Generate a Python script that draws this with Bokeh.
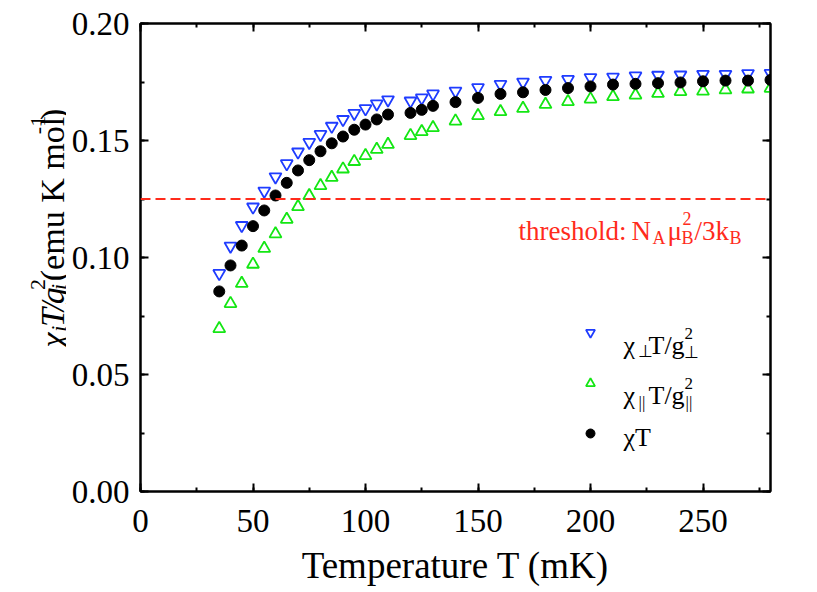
import math
from bokeh.plotting import figure
from bokeh.layouts import row
from bokeh.models import (LinearAxis, SingleIntervalTicker, NumeralTickFormatter, Span, Label,
                          Range1d, ColumnDataSource, CustomJSTickFormatter)
from bokeh.embed import file_html
from bokeh.resources import INLINE

# ---------------- data ----------------
temperature = [35, 40, 45, 50, 55, 60, 65, 70, 75, 80, 85, 90, 95, 100, 105, 110,
               120, 125, 130, 140, 150, 160, 170, 180, 190, 200, 210, 220, 230, 240,
               250, 260, 270, 280]
chi_perp = [0.0932, 0.1049, 0.1137, 0.1216, 0.1284, 0.1345, 0.1401, 0.1451, 0.1492, 0.1526,
            0.1561, 0.1590, 0.1616, 0.1636, 0.1657, 0.1674, 0.1669, 0.1682, 0.1699, 0.1711,
            0.1726, 0.1740, 0.1750, 0.1757, 0.1761, 0.1769, 0.1771, 0.1776, 0.1779, 0.1780,
            0.1783, 0.1783, 0.1786, 0.1787]
chi_par = [0.0696, 0.0803, 0.0889, 0.0971, 0.1039, 0.1101, 0.1163, 0.1217, 0.1264, 0.1307,
           0.1342, 0.1378, 0.1410, 0.1435, 0.1462, 0.1483, 0.1521, 0.1538, 0.1555, 0.1583,
           0.1606, 0.1623, 0.1637, 0.1654, 0.1666, 0.1677, 0.1687, 0.1694, 0.1701, 0.1709,
           0.1711, 0.1716, 0.1720, 0.1723]
chi_T = [0.0855, 0.0966, 0.1051, 0.1134, 0.1201, 0.1265, 0.1319, 0.1372, 0.1416, 0.1454,
         0.1488, 0.1517, 0.1546, 0.1568, 0.1590, 0.1611, 0.1618, 0.1631, 0.1648, 0.1664,
         0.1682, 0.1699, 0.1706, 0.1716, 0.1724, 0.1731, 0.1739, 0.1742, 0.1745, 0.1748,
         0.1753, 0.1756, 0.1756, 0.1759]
threshold = 0.125
x_title = "Temperature T (mK)"

BLUE = "#1f3cff"
GREEN = "#14e614"
RED = "#ff2b1b"
SERIF = "Liberation Serif"

# ---------------- layout geometry (page pixels) ----------------
W, H = 817, 592
YW = 66            # width of the strip holding the rotated y-axis title
FW, FH = 630, 468
X0, X1, Y0, Y1 = 0, 280, 0.0, 0.20
PL, PT = 140, 23   # frame left/top in page pixels

p = figure(frame_width=FW, frame_height=FH, x_range=Range1d(X0, X1), y_range=Range1d(Y0, Y1),
           output_backend="svg", toolbar_location=None,
           min_border_left=PL - YW, min_border_right=W - PL - FW,
           min_border_top=PT, min_border_bottom=H - PT - FH,
           background_fill_color="white", border_fill_color="white",
           outline_line_color="black", outline_line_width=2)
p.xgrid.visible = False
p.ygrid.visible = False

def style_axis(ax, labels=True):
    ax.axis_line_width = 2
    ax.major_tick_in = 8
    ax.major_tick_out = 0
    ax.minor_tick_in = 4
    ax.minor_tick_out = 0
    ax.major_tick_line_width = 2
    ax.minor_tick_line_width = 2
    ax.major_label_text_font = SERIF
    ax.major_label_text_font_size = "33px"
    ax.major_label_text_color = "black"
    if not labels:
        ax.formatter = CustomJSTickFormatter(code="return ''")
        ax.major_label_standoff = 0

p.xaxis.ticker = SingleIntervalTicker(interval=50, num_minor_ticks=2)
p.yaxis.ticker = SingleIntervalTicker(interval=0.05, num_minor_ticks=2)
p.yaxis.formatter = NumeralTickFormatter(format="0.00")
style_axis(p.xaxis[0])
style_axis(p.yaxis[0])
p.xaxis.major_label_standoff = 18
p.yaxis.major_label_standoff = 11
p.xaxis.axis_label = x_title
p.xaxis.axis_label_text_font = SERIF
p.xaxis.axis_label_text_font_size = "37px"
p.xaxis.axis_label_text_font_style = "normal"
p.xaxis.axis_label_text_color = "black"
p.xaxis.axis_label_standoff = 10

top = LinearAxis(ticker=SingleIntervalTicker(interval=50, num_minor_ticks=2))
style_axis(top, labels=False)
p.add_layout(top, "above")
right = LinearAxis(ticker=SingleIntervalTicker(interval=0.05, num_minor_ticks=2))
style_axis(right, labels=False)
p.add_layout(right, "right")

# threshold line
p.add_layout(Span(location=threshold, dimension="width", line_color=RED,
                  line_dash="10 5", line_width=2))

# data
src = ColumnDataSource(dict(t=temperature, perp=chi_perp, par=chi_par, chit=chi_T))
p.scatter("t", "perp", source=src, marker="inverted_triangle", size=12,
          fill_color=None, line_color=BLUE, line_width=1.8)
p.scatter("t", "par", source=src, marker="triangle", size=12,
          fill_color=None, line_color=GREEN, line_width=1.8)
p.scatter("t", "chit", source=src, marker="circle", size=11,
          fill_color="black", line_color="black")

# ---------------- annotations ----------------
def dx(px):
    return X0 + (px - PL) * (X1 - X0) / FW
def dy(py):
    return Y1 - (py - PT) * (Y1 - Y0) / FH

def label(fig, text, x, y, size, color="black", italic=False, angle=0.0):
    fig.add_layout(Label(x=x, y=y, text=text, text_font=SERIF,
                         text_font_size=f"{size}px", text_color=color,
                         text_font_style="italic" if italic else "normal",
                         text_align="left", text_baseline="alphabetic", angle=angle))

def put(text, px, py, size, color="black", italic=False):
    label(p, text, dx(px), dy(py), size, color, italic)

# threshold text
put("threshold:", 518, 230, 27, color=RED)
put("N", 631, 230, 27, color=RED)
put("A", 652, 237, 18, color=RED)
put("μ", 667, 230, 27, color=RED)
put("2", 682, 218, 18, color=RED)
put("B", 681, 237, 18, color=RED)
put("/3k", 694, 230, 27, color=RED)
put("B", 729, 237, 18, color=RED)

# legend
legend_px = [590, 590, 590]
legend_py = [332, 383, 433]
p.scatter([dx(legend_px[0])], [dy(legend_py[0])], marker="inverted_triangle", size=9,
          fill_color=None, line_color=BLUE, line_width=1.8)
p.scatter([dx(legend_px[1])], [dy(legend_py[1])], marker="triangle", size=9,
          fill_color=None, line_color=GREEN, line_width=1.8)
p.scatter([dx(legend_px[2])], [dy(legend_py[2])], marker="circle", size=9,
          fill_color="black", line_color="black")

put("χ", 623, 345, 26)
put("⊥", 637, 351, 17)
put("T/g", 648, 345, 26)
put("2", 684, 333, 17)
put("⊥", 683, 352, 17)

put("χ", 623, 395, 26)
put("||", 638, 402, 17)
put("T/g", 648, 395, 26)
put("2", 684, 383, 17)
put("||", 685, 402, 17)

put("χT", 623, 437, 26)

# ---------------- y-axis title strip ----------------
ys = figure(width=YW, height=H, x_range=Range1d(0, YW), y_range=Range1d(H, 0),
            x_axis_type=None, y_axis_type=None, output_backend="svg", toolbar_location=None,
            min_border=0, outline_line_color=None,
            background_fill_color="white", border_fill_color="white")
R = math.pi / 2
BX = 52
label(ys, "χ", BX, 410, 34, italic=True, angle=R)
label(ys, "i", BX + 6, 390, 22, italic=True, angle=R)
label(ys, "T", BX, 384, 34, italic=True, angle=R)
label(ys, "/", BX, 364, 34, italic=True, angle=R)
label(ys, "g", BX, 355, 34, italic=True, angle=R)
label(ys, "2", BX - 15, 337, 22, angle=R)
label(ys, "i", BX + 6, 337, 22, italic=True, angle=R)
label(ys, "(emu K mol", BX, 326, 34, angle=R)
label(ys, "-1", BX - 15, 140, 22, angle=R)
label(ys, ")", BX, 122, 34, angle=R)

layout = row(ys, p, spacing=0)
open("out.html", "w").write(file_html(layout, INLINE))
